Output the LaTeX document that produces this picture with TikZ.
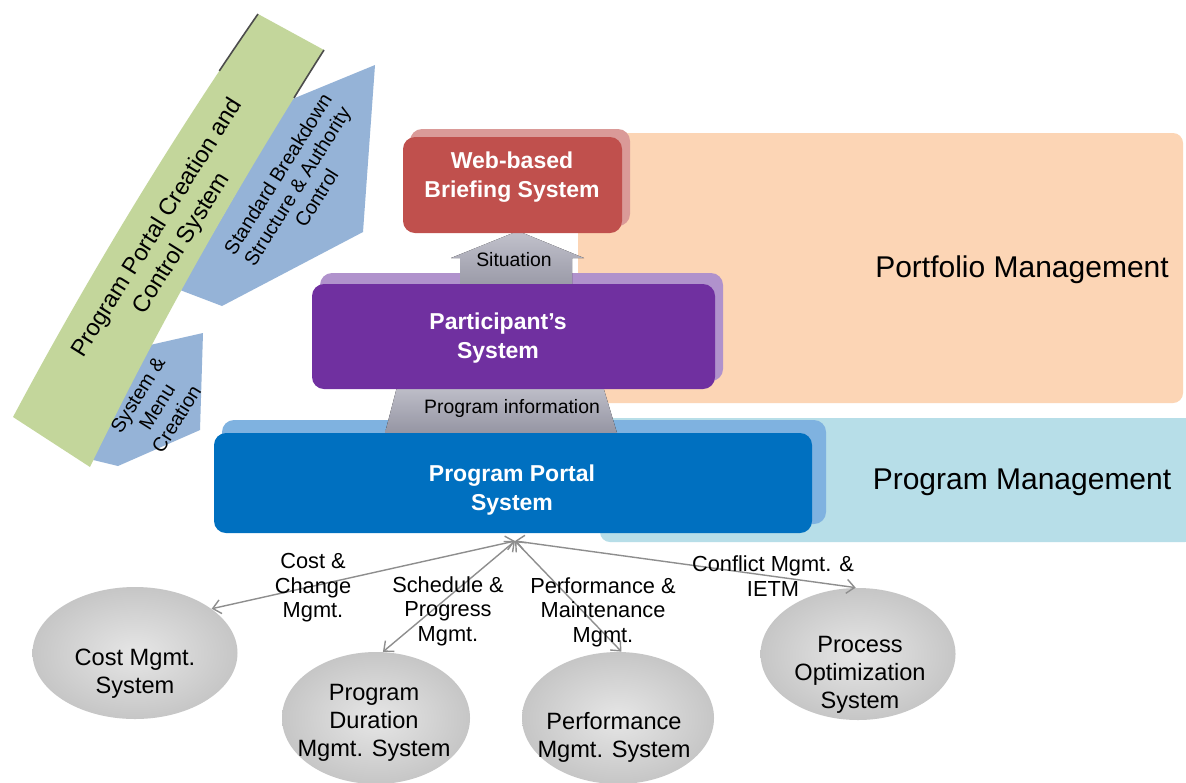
\documentclass[tikz,border=0pt]{standalone}
\usepackage{fontspec}
\setmainfont{Liberation Sans}
\usetikzlibrary{shapes.geometric,arrows.meta}
\definecolor{peach}{HTML}{FCD5B5}
\definecolor{lblue}{HTML}{B7DEE8}
\definecolor{redf}{HTML}{C0504D}
\definecolor{redb}{HTML}{DA9A98}
\definecolor{purf}{HTML}{7030A0}
\definecolor{purb}{HTML}{B092CC}
\definecolor{bluf}{HTML}{0070C0}
\definecolor{blub}{HTML}{7FB2E0}
\definecolor{arrblue}{HTML}{95B3D7}
\definecolor{greenb}{HTML}{C3D69B}
\definecolor{greyhi}{HTML}{C2C2CC}
\definecolor{greylo}{HTML}{9595A3}
\definecolor{linegrey}{HTML}{8E8E8E}
\definecolor{ellin}{HTML}{E6E6E6}
\definecolor{ellout}{HTML}{C6C6C6}
\newcommand{\myfs}[2]{\fontsize{#1}{#2}\selectfont}
\tikzset{
  boxlbl/.style={text=white, font=\bfseries\myfs{11.5}{14.5}, align=center},
  arrlbl/.style={font=\myfs{9.7}{11}, align=center},
  bandlbl/.style={font=\myfs{15}{18}},
  rottxt/.style={rotate=58, align=center},
  ell/.style={ellipse, inner sep=0pt, inner color=ellin, outer color=ellout},
  elltxt/.style={font=\myfs{11.8}{14}, align=center},
  edgelbl/.style={font=\myfs{10.9}{12.3}, align=center},
  conn/.style={draw=linegrey, line width=0.7pt, {Straight Barb[length=4pt,width=7pt]}-{Straight Barb[length=4pt,width=7pt]}},
  face/.style={rounded corners=6pt}
}
\begin{document}
\begin{tikzpicture}[x=0.5pt,y=-0.5pt]
\useasboundingbox (0,0) rectangle (1186,782);
\clip (0,0) rectangle (1186,782);
\fill[white] (0,0) rectangle (1186,782);
% background bands
\fill[peach, rounded corners=5pt] (578,133) rectangle (1183,403);
\fill[lblue, rounded corners=5pt] (600,418) rectangle (1195,542);
\node[bandlbl] (pfm) at (1022,270) {Portfolio Management};
\node[bandlbl] (pgm) at (1022,482) {Program Management};
% blue arrows
\fill[arrblue] (290,100) -- (375,65) -- (363,232) -- (222,306) -- (180,290) -- cycle;
\fill[arrblue] (150,345) -- (203,333) -- (200,430) -- (118,466) -- (85,458) -- cycle;
% green strip
\fill[greenb] (258,14) .. controls (172,138) and (86,280) .. (13,417) -- (90,467)
   .. controls (160,322) and (240,182) .. (324,50) -- cycle;
\draw[black!70, line width=0.8pt] (258,14) .. controls (245.1,32.6) and (232.2,51.6) .. (219.3,70.9);
\draw[black!70, line width=0.8pt] (324,50) .. controls (313.9,65.8) and (303.9,81.8) .. (294,97.9);
\node[rottxt, font=\myfs{11.8}{14.5}] (gtxt) at (170,236) {Program Portal Creation and\\Control System};
\node[rottxt, font=\myfs{9.9}{11.4}] (sbs) at (297,186) {Standard Breakdown\\Structure \& Authority\\Control};
\node[rottxt, font=\myfs{9.9}{11.4}] (smc) at (157,407) {System \&\\Menu\\Creation};
% red box
\fill[redb, face] (410,129) rectangle (630,226);
% purple back and situation arrow
\fill[purb, face] (320,273) rectangle (723,381);
\fill[top color=greyhi, bottom color=greylo] (460,292) -- (460,258) -- (451,258) -- (518,231)
   -- (584,258) -- (572,258) -- (572,292) -- cycle;
\fill[redf, face] (403,137) rectangle (622,233);
\node[boxlbl] (web) at (512,177) {Web-based\\Briefing System};
\node[arrlbl] (sit) at (514,260) {Situation};
% blue back and program information
\fill[blub, face] (222,420) rectangle (826,524);
\fill[top color=greyhi, bottom color=greylo] (398,383) -- (602,383) -- (617,433) -- (385,433) -- cycle;
\fill[purf, face] (312,284) rectangle (715,389);
\node[boxlbl] (part) at (498,338) {Participant’s\\System};
\node[arrlbl] (pinfo) at (512,408) {Program information};
\fill[bluf, face] (214,433) rectangle (812,533);
\node[boxlbl] (pps) at (512,490) {Program Portal\\System};
% ellipses
\node[ell, minimum width=102.5pt, minimum height=66pt] (cost) at (135,653) {};
\node[ell, minimum width=94pt, minimum height=66pt] (pdur) at (376,718) {};
\node[ell, minimum width=96pt, minimum height=66pt] (perf) at (618,718) {};
\node[ell, minimum width=97.5pt, minimum height=66pt] (proc) at (858,654) {};
\node[elltxt] (costt) at (135,674) {Cost Mgmt.\\System};
\node[elltxt] (pdurt) at (374,723) {Program\\Duration\\Mgmt. System};
\node[elltxt] (perft) at (614,737) {Performance\\Mgmt. System};
\node[elltxt] (proct) at (860,675) {Process\\Optimization\\System};
% connectors
\coordinate (hub) at (515,541);
\draw[conn] (hub) -- (cost.30);
\draw[conn] (hub) -- (pdur.84);
\draw[conn] (hub) -- (perf.87);
\draw[conn] (hub) -- (proc.92);
\node[edgelbl] (lcost) at (313,588) {Cost \&\\Change\\Mgmt.};
\node[edgelbl] (lsch) at (448,611) {Schedule \&\\Progress\\Mgmt.};
\node[edgelbl] (lperf) at (603,612) {Performance \&\\Maintenance\\Mgmt.};
\node[edgelbl] (lconf) at (773,576) {Conflict Mgmt. \&\\IETM};
\end{tikzpicture}
\end{document}
